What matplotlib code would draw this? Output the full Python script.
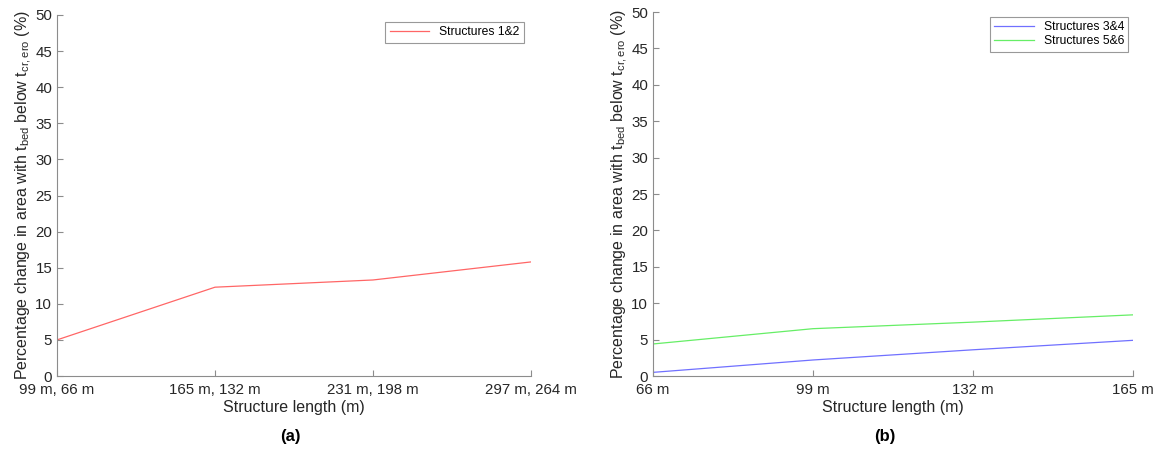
import matplotlib
matplotlib.use('Agg')
import matplotlib.pyplot as plt

plt.rcParams['font.family'] = ['Liberation Sans', 'DejaVu Sans']
plt.rcParams['mathtext.fontset'] = 'custom'
plt.rcParams['mathtext.rm'] = 'Liberation Sans'
plt.rcParams['mathtext.it'] = 'Liberation Sans'

# data
labels_a = ["99 m, 66 m", "165 m, 132 m", "231 m, 198 m", "297 m, 264 m"]
s12 = [5.0, 12.3, 13.3, 15.8]

labels_b = ["66 m", "99 m", "132 m", "165 m"]
s34 = [0.5, 2.2, 3.6, 4.9]
s56 = [4.4, 6.5, 7.4, 8.4]

ylabel = r'Percentage change in area with t$_{\mathrm{bed}}$ below t$_{\mathrm{cr,ero}}$ (%)'
txt = '#262626'
axc = '#8c8c8c'

fig = plt.figure(figsize=(11.57, 4.5), dpi=100)
ax1 = fig.add_axes([57 / 1157, 1 - 376 / 450, 474 / 1157, 361 / 450])
ax2 = fig.add_axes([653 / 1157, 1 - 376 / 450, 480 / 1157, 364 / 450])


def style(ax, labels):
    ax.set_xlim(0, len(labels) - 1)
    ax.set_ylim(0, 50)
    ax.set_xticks(range(len(labels)))
    ax.set_xticklabels(labels)
    ax.set_yticks(range(0, 51, 5))
    for s in ['top', 'right']:
        ax.spines[s].set_visible(False)
    for s in ['left', 'bottom']:
        ax.spines[s].set_color(axc)
        ax.spines[s].set_linewidth(0.8)
    ax.tick_params(direction='in', length=4, width=0.8, color=axc,
                   labelsize=10.8, labelcolor=txt)
    ax.tick_params(axis='x', pad=5)
    ax.set_xlabel('Structure length (m)', fontsize=11.5, color=txt, labelpad=2)
    ax.set_ylabel(ylabel, fontsize=11.5, color=txt, labelpad=1)


x = range(len(labels_a))
ax1.plot(x, s12, color='#ff6666', lw=0.9, label='Structures 1&2')
style(ax1, labels_a)
leg = ax1.legend(loc='upper right', fontsize=8.7, fancybox=False, edgecolor='#999999',
                 framealpha=1, handlelength=3.3, borderaxespad=0.6, borderpad=0.35)
leg.get_frame().set_linewidth(0.8)

x = range(len(labels_b))
ax2.plot(x, s34, color='#7070ff', lw=0.9, label='Structures 3&4')
ax2.plot(x, s56, color='#66ee66', lw=0.9, label='Structures 5&6')
style(ax2, labels_b)
leg = ax2.legend(loc='upper right', fontsize=8.7, fancybox=False, edgecolor='#999999',
                 framealpha=1, handlelength=3.3, borderaxespad=0.4, borderpad=0.35,
                 labelspacing=0.2)
leg.get_frame().set_linewidth(0.8)

fig.text(290 / 1157, 1 - 437 / 450, '(a)', fontsize=12, fontweight='bold',
         ha='center', va='center', color='black')
fig.text(885 / 1157, 1 - 437 / 450, '(b)', fontsize=12, fontweight='bold',
         ha='center', va='center', color='black')

fig.savefig('out.png', dpi=100, facecolor='white')
